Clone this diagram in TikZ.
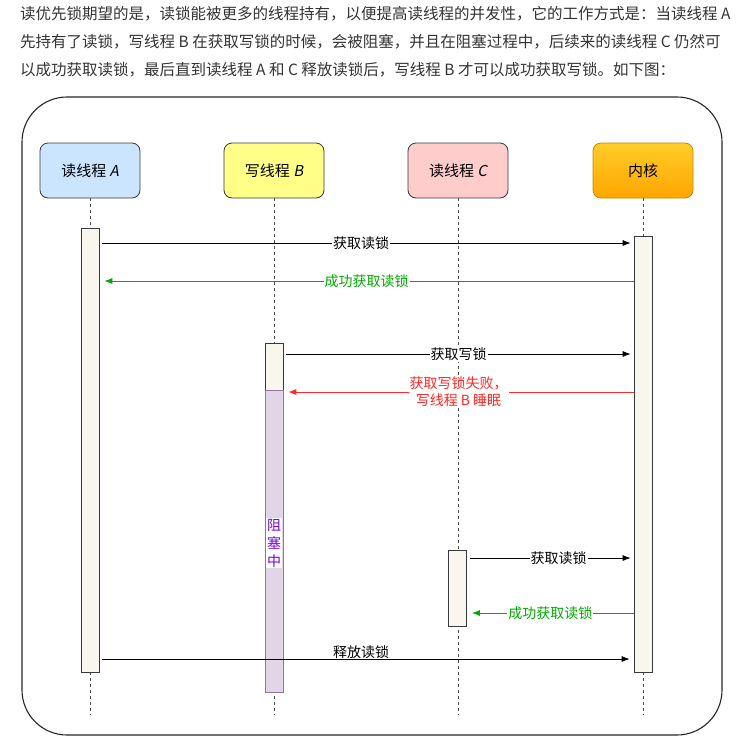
\documentclass[tikz,border=0pt]{standalone}
\usepackage{fontspec}
\setmainfont{Noto Sans CJK SC}
\newfontfamily\slantcjk[FakeSlant=0.2]{Noto Sans CJK SC}
\usepackage{xcolor}
\usetikzlibrary{arrows.meta, math, positioning, calc}
\definecolor{boxblue}{RGB}{204,229,255}
\definecolor{boxyellow}{RGB}{255,255,136}
\definecolor{boxpink}{RGB}{255,204,204}
\definecolor{boxorange1}{RGB}{255,205,40}
\definecolor{boxorange2}{RGB}{255,165,0}
\definecolor{edgegray}{RGB}{54,57,61}
\definecolor{barfill}{RGB}{249,247,237}
\definecolor{waitfill}{RGB}{225,213,231}
\definecolor{waitedge}{RGB}{150,115,166}
\definecolor{okgreen}{RGB}{0,170,0}
\definecolor{failred}{RGB}{255,40,40}
\definecolor{waittext}{RGB}{120,0,230}

\tikzset{
  para/.style={anchor=west, inner sep=0, text=black!80, font=\fontsize{15.5}{20}\selectfont},
  actor/.style={draw=edgegray, line width=0.8pt, rounded corners=8pt, minimum width=100pt, minimum height=55pt, font=\fontsize{15}{18}\selectfont},
  bar/.style={draw=edgegray, fill=barfill, line width=0.7pt, minimum width=18pt, inner sep=0},
  life/.style={draw=black!70, dash pattern=on 3pt off 3pt, line width=0.7pt},
  msg/.style={-{Latex[length=8pt,width=6pt]}, line width=0.8pt, shorten <=3pt, shorten >=3pt},
  back/.style={msg, shorten <=0pt, shorten >=5pt},
  lbl/.style={fill=white, inner sep=1pt, font=\fontsize{14}{17}\selectfont},
}

\begin{document}
\begin{tikzpicture}[x=1pt, y=-1pt]
\tikzmath{
\xA=90;
\xB=274;
\xC=458;
\xK=643;
\yT=170.5;
\yE=715;
}
\useasboundingbox (0,0) rectangle (739,748);

%The text above:
\node[para] (t1) at (20,14) {读优先锁期望的是，读锁能被更多的线程持有，以便提高读线程的并发性，它的工作方式是：当读线程 A};
\node[para] (t2) at (20,42) {先持有了读锁，写线程 B 在获取写锁的时候，会被阻塞，并且在阻塞过程中，后续来的读线程 C 仍然可};
\node[para] (t3) at (20,70) {以成功获取读锁，最后直到读线程 A 和 C 释放读锁后，写线程 B 才可以成功获取写锁。如下图：};

%The frame:
\draw[line width=1.1pt, rounded corners=45pt, black!85] (22,97) rectangle (722,735);

%The actors:
\node[actor, fill=boxblue] (A) at (\xA,\yT) {读线程 {\slantcjk A}};
\node[actor, fill=boxyellow] (B) at (\xB,\yT) {写线程 {\slantcjk B}};
\node[actor, fill=boxpink] (C) at (\xC,\yT) {读线程 {\slantcjk C}};
\node[actor, draw=boxorange2!80!black, top color=boxorange1, bottom color=boxorange2] (K) at (\xK,\yT) {内核};

\coordinate (Aend) at (\xA,\yE);
\coordinate (Bend) at (\xB,\yE);
\coordinate (Cend) at (\xC,\yE);
\coordinate (Kend) at (\xK,\yE);
\draw[life] (A) -- (Aend);
\draw[life] (B) -- (Bend);
\draw[life] (C) -- (Cend);
\draw[life] (K) -- (Kend);

%The bars:
\node[bar, minimum height=444pt] (barA) at (\xA,450) {};
\node[bar, minimum height=436pt] (barK) at (\xK,454) {};
\node[bar, minimum height=47pt] (barB) at (\xB,366.5) {};
\node[bar, draw=waitedge, fill=waitfill, minimum height=302pt] (waitB) at (\xB,541) {};
\node[bar, minimum height=76pt] (barC) at (\xC-0.5,588) {};
\node[lbl, text=waittext, align=center, font=\fontsize{14}{18}\selectfont] (wait) at (\xB,543) {阻\\塞\\中};

%The messages:
\coordinate (y1) at (0,243);
\coordinate (y2) at (0,281);
\coordinate (y3) at (0,354);
\coordinate (y4) at (0,392);
\coordinate (y5) at (0,558);
\coordinate (y6) at (0,613);
\coordinate (y7) at (0,659);
\draw[msg] (barA.east |- y1) -- (barK.west |- y1) node[lbl, pos=0.49] (m1) {获取读锁};
\draw[back, okgreen] (barK.west |- y2) -- (barA.east |- y2) node[lbl, midway] (m2) {成功获取读锁};
\draw[msg] (barB.east |- y3) -- (barK.west |- y3) node[lbl, midway] (m3) {获取写锁};
\draw[back, failred] (barK.west |- y4) -- (waitB.east |- y4) node[lbl, midway, align=center, yshift=0.5pt] (m4) {获取写锁失败，\\写线程 B 睡眠};
\draw[msg] (barC.east |- y5) -- (barK.west |- y5) node[lbl, pos=0.55] (m5) {获取读锁};
\draw[back, okgreen] (barK.west |- y6) -- (barC.east |- y6) node[lbl, midway] (m6) {成功获取读锁};
\draw[msg, shorten >=4pt] (barA.east |- y7) -- (barK.west |- y7) node[lbl, fill=none, inner sep=0, pos=0.49, anchor=south] (m7) {释放读锁};

\end{tikzpicture}
\end{document}
